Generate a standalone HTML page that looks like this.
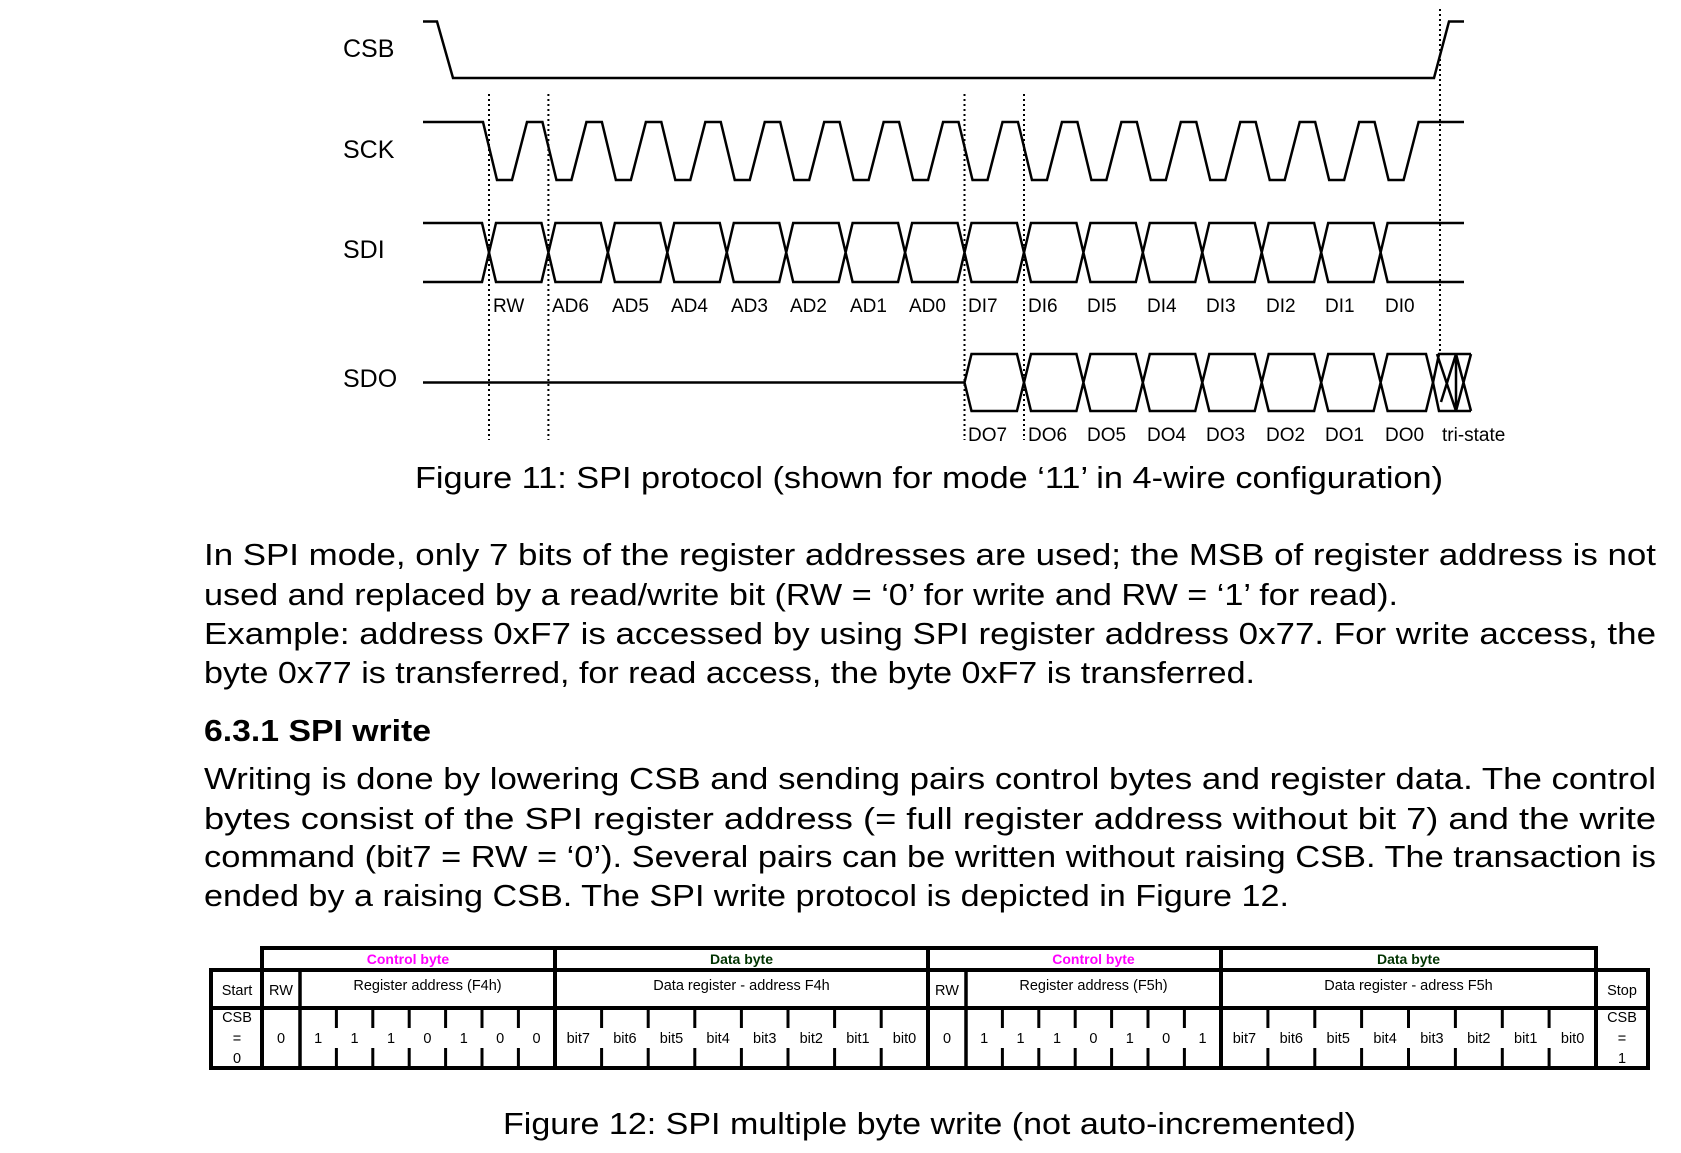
<!DOCTYPE html>
<html><head><meta charset="utf-8"><style>
html,body{margin:0;padding:0;background:#fff;}
svg{display:block;}
text{font-family:"Liberation Sans",sans-serif;fill:#000;}
</style></head><body>
<svg width="1681" height="1153" viewBox="0 0 1681 1153" xmlns="http://www.w3.org/2000/svg">
<g fill="none" stroke="#000" stroke-width="2.5" stroke-linejoin="miter">
<path d="M423,21.5 H437 L453,78 H1434 L1449,21.5 H1464"/>
<path d="M423,122 H483 l14,58 h15 l15,-58 h15.44 l14,58 h15 l15,-58 h15.44 l14,58 h15 l15,-58 h15.44 l14,58 h15 l15,-58 h15.44 l14,58 h15 l15,-58 h15.44 l14,58 h15 l15,-58 h15.44 l14,58 h15 l15,-58 h15.44 l14,58 h15 l15,-58 h15.44 l14,58 h15 l15,-58 h15.44 l14,58 h15 l15,-58 h15.44 l14,58 h15 l15,-58 h15.44 l14,58 h15 l15,-58 h15.44 l14,58 h15 l15,-58 h15.44 l14,58 h15 l15,-58 h15.44 l14,58 h15 l15,-58 h15.44 l14,58 h15 l15,-58 H1464"/>
<path d="M423,223 H482 L489,252.5 L482,282 H423"/>
<path d="M489,252.5 l7,-29.5 h45.44 l7,29.5 l-7,29.5 h-45.44 z
M548.4,252.5 l7,-29.5 h45.44 l7,29.5 l-7,29.5 h-45.44 z
M607.9,252.5 l7,-29.5 h45.44 l7,29.5 l-7,29.5 h-45.44 z
M667.3,252.5 l7,-29.5 h45.44 l7,29.5 l-7,29.5 h-45.44 z
M726.8,252.5 l7,-29.5 h45.44 l7,29.5 l-7,29.5 h-45.44 z
M786.2,252.5 l7,-29.5 h45.44 l7,29.5 l-7,29.5 h-45.44 z
M845.6,252.5 l7,-29.5 h45.44 l7,29.5 l-7,29.5 h-45.44 z
M905.1,252.5 l7,-29.5 h45.44 l7,29.5 l-7,29.5 h-45.44 z
M964.5,252.5 l7,-29.5 h45.44 l7,29.5 l-7,29.5 h-45.44 z
M1024,252.5 l7,-29.5 h45.44 l7,29.5 l-7,29.5 h-45.44 z
M1083.4,252.5 l7,-29.5 h45.44 l7,29.5 l-7,29.5 h-45.44 z
M1142.8,252.5 l7,-29.5 h45.44 l7,29.5 l-7,29.5 h-45.44 z
M1202.3,252.5 l7,-29.5 h45.44 l7,29.5 l-7,29.5 h-45.44 z
M1261.7,252.5 l7,-29.5 h45.44 l7,29.5 l-7,29.5 h-45.44 z
M1321.2,252.5 l7,-29.5 h45.44 l7,29.5 l-7,29.5 h-45.44 z"/>
<path d="M1380.6,252.5 L1387.6,223 H1464 M1380.6,252.5 L1387.6,282 H1464"/>
<path d="M423,382.5 H964.5"/>
<path d="M964.5,382.5 l7,-28.5 h45.44 l7,28.5 l-7,28.5 h-45.44 z
M1024,382.5 l7,-28.5 h45.44 l7,28.5 l-7,28.5 h-45.44 z
M1083.4,382.5 l7,-28.5 h45.44 l7,28.5 l-7,28.5 h-45.44 z
M1142.8,382.5 l7,-28.5 h45.44 l7,28.5 l-7,28.5 h-45.44 z
M1202.3,382.5 l7,-28.5 h45.44 l7,28.5 l-7,28.5 h-45.44 z
M1261.7,382.5 l7,-28.5 h45.44 l7,28.5 l-7,28.5 h-45.44 z
M1321.2,382.5 l7,-28.5 h45.44 l7,28.5 l-7,28.5 h-45.44 z
M1380.6,382.5 l7,-28.5 h38.4 l7,28.5 l-7,28.5 h-38.4 z"/>
<path d="M1433,382.5 L1439,354 H1471 M1433,382.5 L1439,411 H1471 M1456,354 V411 M1437,354 L1456,411 M1441,402 L1456,354 M1456,354 L1471,411 M1456,411 L1471,354"/>
</g>
<g stroke="#000" stroke-width="2" stroke-dasharray="2,3" fill="none">
<path d="M489,94 V440 M548.4,94 V440 M964.5,94 V440 M1024,94 V440 M1440,9 V352"/>
</g>
<g font-size="25">
<text x="343" y="57">CSB</text>
<text x="343" y="158">SCK</text>
<text x="343" y="258">SDI</text>
<text x="343" y="387">SDO</text>
</g>
<g font-size="19">
<text x="493" y="312">RW</text>
<text x="552" y="312">AD6</text>
<text x="612" y="312">AD5</text>
<text x="671" y="312">AD4</text>
<text x="731" y="312">AD3</text>
<text x="790" y="312">AD2</text>
<text x="850" y="312">AD1</text>
<text x="909" y="312">AD0</text>
<text x="968" y="312">DI7</text>
<text x="1028" y="312">DI6</text>
<text x="1087" y="312">DI5</text>
<text x="1147" y="312">DI4</text>
<text x="1206" y="312">DI3</text>
<text x="1266" y="312">DI2</text>
<text x="1325" y="312">DI1</text>
<text x="1385" y="312">DI0</text>
<text x="968" y="441">DO7</text>
<text x="1028" y="441">DO6</text>
<text x="1087" y="441">DO5</text>
<text x="1147" y="441">DO4</text>
<text x="1206" y="441">DO3</text>
<text x="1266" y="441">DO2</text>
<text x="1325" y="441">DO1</text>
<text x="1385" y="441">DO0</text>
<text x="1442" y="441">tri-state</text>
</g>
<text x="415" y="488" font-size="31" textLength="1028" lengthAdjust="spacingAndGlyphs">Figure 11: SPI protocol (shown for mode ‘11’ in 4-wire configuration)</text>
<g font-size="31">
<text x="204" y="565" textLength="1452" lengthAdjust="spacingAndGlyphs">In SPI mode, only 7 bits of the register addresses are used; the MSB of register address is not</text>
<text x="204" y="605" textLength="1194" lengthAdjust="spacingAndGlyphs">used and replaced by a read/write bit (RW = ‘0’ for write and RW = ‘1’ for read).</text>
<text x="204" y="644" textLength="1452" lengthAdjust="spacingAndGlyphs">Example: address 0xF7 is accessed by using SPI register address 0x77. For write access, the</text>
<text x="204" y="683" textLength="1051" lengthAdjust="spacingAndGlyphs">byte 0x77 is transferred, for read access, the byte 0xF7 is transferred.</text>
<text x="204" y="741" font-weight="bold" textLength="227" lengthAdjust="spacingAndGlyphs">6.3.1 SPI write</text>
<text x="204" y="789" textLength="1452" lengthAdjust="spacingAndGlyphs">Writing is done by lowering CSB and sending pairs control bytes and register data. The control</text>
<text x="204" y="829" textLength="1452" lengthAdjust="spacingAndGlyphs">bytes consist of the SPI register address (= full register address without bit 7) and the write</text>
<text x="204" y="867" textLength="1452" lengthAdjust="spacingAndGlyphs">command (bit7 = RW = ‘0’). Several pairs can be written without raising CSB. The transaction is</text>
<text x="204" y="906" textLength="1085" lengthAdjust="spacingAndGlyphs">ended by a raising CSB. The SPI write protocol is depicted in Figure 12.</text>
</g>
<g stroke="#000" stroke-width="4" fill="none" stroke-linecap="square">
<path d="M262,948 H1596 M211,970 H1648 M211,1008 H1648 M211,1068 H1648"/>
<path d="M211,970 V1068 M262,948 V1068 M555,948 V1068 M928,948 V1068 M1221,948 V1068 M1596,948 V1068 M1648,970 V1068"/>
<path d="M300,970 V1068 M966,970 V1068" stroke-width="3.5"/>
</g>
<g stroke="#000" stroke-width="3" fill="none">
<path d="M336.4,1008 V1028 M372.8,1008 V1028 M409.2,1008 V1028 M445.6,1008 V1028 M482,1008 V1028 M518.4,1008 V1028
M336.4,1048 V1068 M372.8,1048 V1068 M409.2,1048 V1068 M445.6,1048 V1068 M482,1048 V1068 M518.4,1048 V1068
M601.6,1008 V1028 M648.2,1008 V1028 M694.8,1008 V1028 M741.4,1008 V1028 M788,1008 V1028 M834.6,1008 V1028 M881.2,1008 V1028
M601.6,1048 V1068 M648.2,1048 V1068 M694.8,1048 V1068 M741.4,1048 V1068 M788,1048 V1068 M834.6,1048 V1068 M881.2,1048 V1068
M1002.4,1008 V1028 M1038.8,1008 V1028 M1075.2,1008 V1028 M1111.6,1008 V1028 M1148,1008 V1028 M1184.4,1008 V1028
M1002.4,1048 V1068 M1038.8,1048 V1068 M1075.2,1048 V1068 M1111.6,1048 V1068 M1148,1048 V1068 M1184.4,1048 V1068
M1267.9,1008 V1028 M1314.8,1008 V1028 M1361.6,1008 V1028 M1408.5,1008 V1028 M1455.4,1008 V1028 M1502.3,1008 V1028 M1549.1,1008 V1028
M1267.9,1048 V1068 M1314.8,1048 V1068 M1361.6,1048 V1068 M1408.5,1048 V1068 M1455.4,1048 V1068 M1502.3,1048 V1068 M1549.1,1048 V1068"/>
</g>
<g font-size="14" text-anchor="middle" font-weight="bold">
<text x="408" y="964" style="fill:#ff00ff">Control byte</text>
<text x="741.5" y="964" style="fill:#003300">Data byte</text>
<text x="1093.5" y="964" style="fill:#ff00ff">Control byte</text>
<text x="1408.5" y="964" style="fill:#003300">Data byte</text>
</g>
<g font-size="14.5" text-anchor="middle">
<text x="237" y="995">Start</text>
<text x="281" y="995">RW</text>
<text x="427.5" y="990">Register address (F4h)</text>
<text x="741.5" y="990">Data register - address F4h</text>
<text x="947" y="995">RW</text>
<text x="1093.5" y="990">Register address (F5h)</text>
<text x="1408.5" y="990">Data register - adress F5h</text>
<text x="1622" y="995">Stop</text>
<text x="237" y="1022">CSB</text>
<text x="237" y="1043">=</text>
<text x="237" y="1063">0</text>
<text x="1622" y="1022">CSB</text>
<text x="1622" y="1043">=</text>
<text x="1622" y="1063">1</text>
<text x="281" y="1043">0</text>
<text x="318.2" y="1043">1</text><text x="354.6" y="1043">1</text><text x="391" y="1043">1</text><text x="427.4" y="1043">0</text><text x="463.8" y="1043">1</text><text x="500.2" y="1043">0</text><text x="536.6" y="1043">0</text>
<text x="578.3" y="1043">bit7</text><text x="624.9" y="1043">bit6</text><text x="671.5" y="1043">bit5</text><text x="718.1" y="1043">bit4</text><text x="764.7" y="1043">bit3</text><text x="811.3" y="1043">bit2</text><text x="857.9" y="1043">bit1</text><text x="904.5" y="1043">bit0</text>
<text x="947" y="1043">0</text>
<text x="984.2" y="1043">1</text><text x="1020.6" y="1043">1</text><text x="1057" y="1043">1</text><text x="1093.4" y="1043">0</text><text x="1129.8" y="1043">1</text><text x="1166.2" y="1043">0</text><text x="1202.6" y="1043">1</text>
<text x="1244.4" y="1043">bit7</text><text x="1291.3" y="1043">bit6</text><text x="1338.2" y="1043">bit5</text><text x="1385.1" y="1043">bit4</text><text x="1431.9" y="1043">bit3</text><text x="1478.8" y="1043">bit2</text><text x="1525.7" y="1043">bit1</text><text x="1572.6" y="1043">bit0</text>
</g>
<text x="503" y="1134" font-size="31" textLength="853" lengthAdjust="spacingAndGlyphs">Figure 12: SPI multiple byte write (not auto-incremented)</text>
</svg>
</body></html>
